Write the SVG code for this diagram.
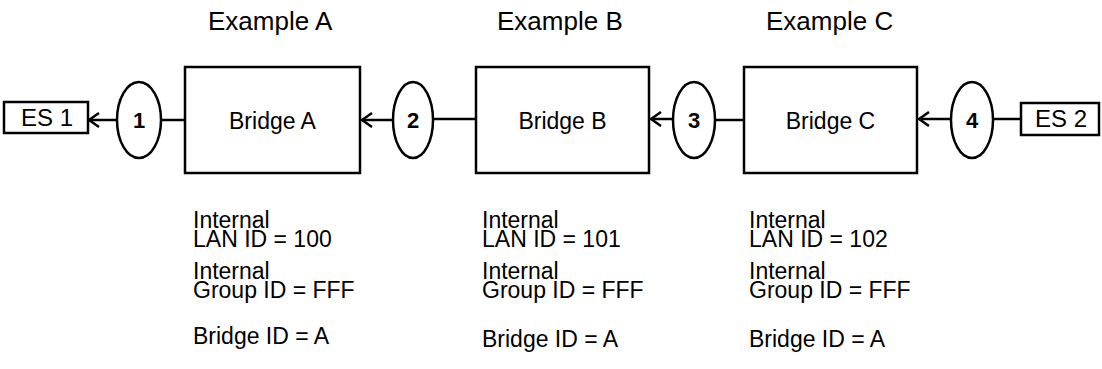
<svg xmlns="http://www.w3.org/2000/svg" width="1102" height="369" viewBox="0 0 1102 369">
  <style>
    .box { fill: #fff; stroke: #000; stroke-width: 2.5; }
    .port { fill: #fff; stroke: #000; stroke-width: 2.5; }
    .wire { fill: none; stroke: #000; stroke-width: 2.5; }
    .t { font-family: "Liberation Sans", Arial, sans-serif; font-size: 23px; fill: #000; }
    .title { font-family: "Liberation Sans", Arial, sans-serif; font-size: 26px; fill: #000; }
    .mid { text-anchor: middle; }
    .num { font-family: "Liberation Sans", Arial, sans-serif; font-size: 22px; font-weight: bold; fill: #000; text-anchor: middle; }
  </style>
  <defs>
    <!-- open V arrowhead, tip at the end of the line -->
    <marker id="open-arrow" viewBox="0 0 12 16" refX="11" refY="8" markerWidth="12" markerHeight="16" markerUnits="userSpaceOnUse" orient="auto">
      <path d="M1,1 L11,8 L1,15" fill="none" stroke="#000" stroke-width="2.5"/>
    </marker>
  </defs>

  <!-- column titles -->
  <text class="title" x="208" y="30">Example A</text>
  <text class="title" x="497" y="30">Example B</text>
  <text class="title" x="766" y="30">Example C</text>

  <!-- connectors -->
  <g id="connectors">
    <line class="wire" x1="117" y1="120" x2="89" y2="120" marker-end="url(#open-arrow)"/>
    <line class="wire" x1="161" y1="120" x2="185" y2="120"/>
    <line class="wire" x1="393" y1="120" x2="362" y2="120" marker-end="url(#open-arrow)"/>
    <line class="wire" x1="433" y1="119" x2="476" y2="119"/>
    <line class="wire" x1="673" y1="119" x2="651" y2="119" marker-end="url(#open-arrow)"/>
    <line class="wire" x1="715" y1="120" x2="744" y2="120"/>
    <line class="wire" x1="951" y1="119" x2="919" y2="119" marker-end="url(#open-arrow)"/>
    <line class="wire" x1="993" y1="119" x2="1021" y2="119"/>
  </g>

  <g id="es1">
    <rect class="box" x="4" y="102" width="84" height="31"/>
    <text class="t mid" x="47" y="126" style="font-size:24px">ES 1</text>
  </g>
  <g id="port1">
    <ellipse class="port" cx="139" cy="120" rx="22" ry="38"/>
    <text class="num" x="139" y="128">1</text>
  </g>
  <g id="bridge-a">
    <rect class="box" x="185" y="67" width="175" height="106"/>
    <text class="t mid" x="272.5" y="129">Bridge A</text>
  </g>
  <g id="port2">
    <ellipse class="port" cx="413" cy="120" rx="20" ry="38"/>
    <text class="num" x="413" y="128">2</text>
  </g>
  <g id="bridge-b">
    <rect class="box" x="476" y="67" width="173" height="106"/>
    <text class="t mid" x="562.5" y="129">Bridge B</text>
  </g>
  <g id="port3">
    <ellipse class="port" cx="694" cy="120" rx="21" ry="38"/>
    <text class="num" x="694" y="128">3</text>
  </g>
  <g id="bridge-c">
    <rect class="box" x="744" y="67" width="173" height="106"/>
    <text class="t mid" x="830.5" y="129">Bridge C</text>
  </g>
  <g id="port4">
    <ellipse class="port" cx="972" cy="120" rx="21" ry="38"/>
    <text class="num" x="972" y="128">4</text>
  </g>
  <g id="es2">
    <rect class="box" x="1021" y="103" width="78" height="32"/>
    <text class="t mid" x="1061" y="127" style="font-size:24px">ES 2</text>
  </g>

  <!-- per-bridge settings -->
  <g id="info-a" class="t">
    <text><tspan x="193" y="228">Internal</tspan><tspan x="193" y="247">LAN ID = 100</tspan></text>
    <text><tspan x="193" y="279">Internal</tspan><tspan x="193" y="298">Group ID = FFF</tspan></text>
    <text x="193" y="344">Bridge ID = A</text>
  </g>
  <g id="info-b" class="t">
    <text><tspan x="482" y="228">Internal</tspan><tspan x="482" y="247">LAN ID = 101</tspan></text>
    <text><tspan x="482" y="279">Internal</tspan><tspan x="482" y="298">Group ID = FFF</tspan></text>
    <text x="482" y="347">Bridge ID = A</text>
  </g>
  <g id="info-c" class="t">
    <text><tspan x="749" y="228">Internal</tspan><tspan x="749" y="247">LAN ID = 102</tspan></text>
    <text><tspan x="749" y="279">Internal</tspan><tspan x="749" y="298">Group ID = FFF</tspan></text>
    <text x="749" y="347">Bridge ID = A</text>
  </g>
</svg>
